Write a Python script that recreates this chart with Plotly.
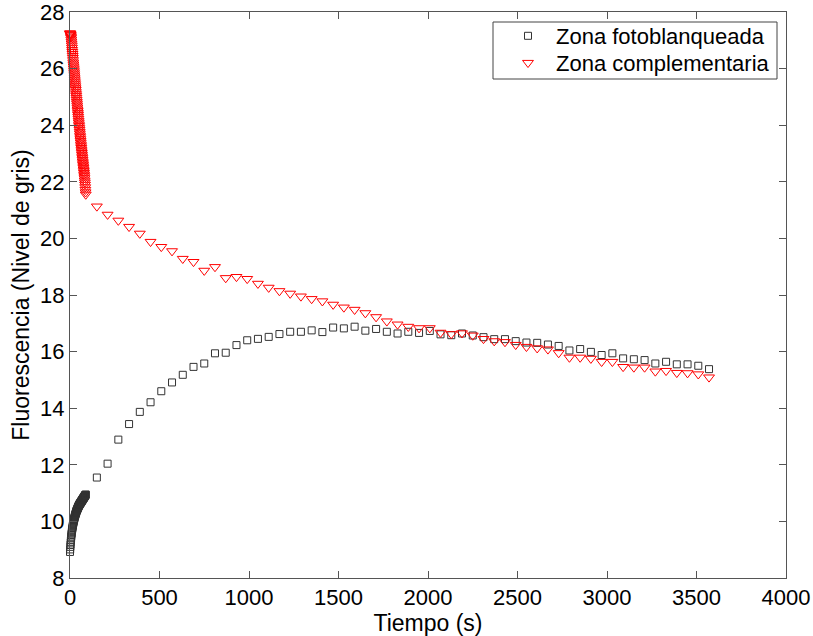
import plotly.graph_objects as go

# Early, densely sampled part of the recording (s)
t_dense = [0, 1, 2, 3, 4, 5, 6, 7, 8, 9, 10, 11, 12, 13, 14, 15, 16, 17, 18, 19,
           20, 21, 22, 23, 24, 25, 26, 27, 28, 29, 30, 31, 32, 33, 34, 35, 36, 37, 38, 39,
           40, 41, 42, 43, 44, 45, 46, 47, 48, 49, 50, 51, 52, 53, 54, 55, 56, 57, 58, 59,
           60, 61, 62, 63, 64, 65, 66, 67, 68, 69, 70, 71, 72, 73, 74, 75, 76, 77, 78, 79,
           80, 81, 82, 83, 84, 85, 86, 87, 88]

# Later, sparsely sampled part (s)
t_sparse = [150, 210, 270, 330, 390, 450, 510, 570, 630, 690, 750, 810, 870, 930, 990,
            1050, 1110, 1170, 1230, 1290, 1350, 1410, 1470, 1530, 1590, 1650, 1710, 1770,
            1830, 1890, 1950, 2010, 2070, 2130, 2190, 2250, 2310, 2370, 2430, 2490, 2550,
            2610, 2670, 2730, 2790, 2850, 2910, 2970, 3030, 3090, 3150, 3210, 3270, 3330,
            3390, 3450, 3510, 3570]

# Photobleached zone (grey level)
bleached_dense = [8.92, 9.01, 9.10, 9.18, 9.26, 9.33, 9.40, 9.46, 9.52, 9.57,
                  9.62, 9.67, 9.71, 9.75, 9.79, 9.83, 9.86, 9.90, 9.93, 9.96,
                  9.99, 10.02, 10.05, 10.08, 10.10, 10.13, 10.15, 10.18, 10.20, 10.22,
                  10.24, 10.26, 10.28, 10.30, 10.32, 10.34, 10.36, 10.38, 10.39, 10.41,
                  10.42, 10.44, 10.45, 10.47, 10.48, 10.50, 10.51, 10.53, 10.54, 10.55,
                  10.56, 10.58, 10.59, 10.60, 10.61, 10.62, 10.63, 10.64, 10.65, 10.66,
                  10.67, 10.68, 10.69, 10.70, 10.71, 10.72, 10.73, 10.74, 10.75, 10.76,
                  10.77, 10.78, 10.79, 10.80, 10.81, 10.82, 10.83, 10.84, 10.85, 10.86,
                  10.87, 10.88, 10.89, 10.90, 10.91, 10.92, 10.93, 10.94, 10.95]
bleached_sparse = [11.55, 12.04, 12.89, 13.44, 13.87, 14.21, 14.60, 14.91, 15.18, 15.46,
                   15.58, 15.94, 15.96, 16.23, 16.40, 16.45, 16.52, 16.62, 16.70, 16.70,
                   16.75, 16.69, 16.85, 16.82, 16.88, 16.74, 16.80, 16.70, 16.64, 16.70,
                   16.66, 16.73, 16.61, 16.58, 16.64, 16.57, 16.51, 16.44, 16.44, 16.37,
                   16.32, 16.31, 16.25, 16.20, 16.04, 16.09, 15.99, 15.88, 15.94, 15.76,
                   15.73, 15.70, 15.58, 15.64, 15.55, 15.55, 15.50, 15.38]

# Complementary zone (grey level)
complement_dense = [27.25, 27.24, 27.22, 27.20, 27.18, 27.14, 27.10, 27.03, 26.96, 26.89,
                    26.82, 26.74, 26.66, 26.59, 26.52, 26.45, 26.38, 26.30, 26.22, 26.15,
                    26.08, 26.01, 25.94, 25.87, 25.80, 25.73, 25.66, 25.59, 25.52, 25.45,
                    25.38, 25.31, 25.25, 25.17, 25.10, 25.04, 24.97, 24.90, 24.83, 24.77,
                    24.70, 24.63, 24.56, 24.50, 24.43, 24.37, 24.30, 24.23, 24.16, 24.10,
                    24.03, 23.97, 23.90, 23.84, 23.77, 23.71, 23.64, 23.58, 23.51, 23.45,
                    23.39, 23.32, 23.26, 23.20, 23.14, 23.08, 23.02, 22.96, 22.90, 22.84,
                    22.78, 22.72, 22.66, 22.61, 22.55, 22.50, 22.44, 22.38, 22.32, 22.26,
                    22.20, 22.13, 22.05, 21.98, 21.90, 21.81, 21.72, 21.63, 21.55]
complement_sparse = [21.13, 20.84, 20.63, 20.41, 20.17, 19.88, 19.70, 19.55, 19.28, 19.17,
                     18.86, 18.99, 18.60, 18.64, 18.57, 18.40, 18.26, 18.14, 18.05, 17.95,
                     17.86, 17.78, 17.66, 17.56, 17.48, 17.36, 17.22, 17.07, 16.96, 16.88,
                     16.83, 16.83, 16.67, 16.62, 16.65, 16.57, 16.45, 16.37, 16.34, 16.24,
                     16.17, 16.12, 16.08, 15.95, 15.79, 15.79, 15.75, 15.64, 15.64, 15.46,
                     15.44, 15.44, 15.30, 15.32, 15.25, 15.24, 15.20, 15.09]

x_ticks = [0, 500, 1000, 1500, 2000, 2500, 3000, 3500, 4000]
y_ticks = [8, 10, 12, 14, 16, 18, 20, 22, 24, 26, 28]

FONT = "Liberation Sans, Arial, Helvetica, sans-serif"
AXIS_COLOR = "#555555"

# Plot area in pixels (used to place the legend frame)
L, R, T, B = 70, 786, 12, 578
W, H = 813, 636


def px_x(px):
    return (px - L) / (R - L)


def px_y(py):
    return (B - py) / (B - T)


fig = go.Figure()

fig.add_trace(go.Scatter(
    x=t_dense + t_sparse,
    y=bleached_dense + bleached_sparse,
    mode="markers",
    name="Zona fotoblanqueada",
    legend="legend",
    cliponaxis=False,
    marker=dict(symbol="square-open", size=7, color="#333333",
                line=dict(width=1, color="#333333")),
))

fig.add_trace(go.Scatter(
    x=t_dense + t_sparse,
    y=complement_dense + complement_sparse,
    mode="markers",
    name="Zona complementaria",
    legend="legend2",
    cliponaxis=False,
    marker=dict(symbol="triangle-down-open", size=9.5, color="#ff0000",
                line=dict(width=1, color="#ff0000")),
))

axis_common = dict(
    showline=True, linecolor=AXIS_COLOR, linewidth=1, mirror="ticks",
    ticks="inside", ticklen=7, tickwidth=1, tickcolor=AXIS_COLOR,
    showgrid=False, zeroline=False, automargin=False,
    ticklabeloverflow="allow",
    tickfont=dict(family=FONT, size=22, color="#000000"),
)

legend_common = dict(
    xanchor="left", yanchor="middle",
    bgcolor="rgba(0,0,0,0)", borderwidth=0,
    font=dict(family=FONT, size=22, color="#000000"),
    itemwidth=46,
)

fig.update_layout(
    width=W, height=H,
    margin=dict(l=L, r=W - R, t=T, b=H - B, pad=0, autoexpand=False),
    paper_bgcolor="white", plot_bgcolor="white",
    font=dict(family=FONT, color="#000000"),
    xaxis=dict(range=[0, 4000], tickvals=x_ticks, ticktext=[str(v) for v in x_ticks],
               title=dict(text="Tiempo (s)", font=dict(family=FONT, size=23), standoff=3),
               **axis_common),
    yaxis=dict(range=[8, 28], tickvals=y_ticks, ticktext=[str(v) for v in y_ticks],
               title=dict(text="Fluorescencia (Nivel de gris)", font=dict(family=FONT, size=23),
                          standoff=4),
               **axis_common),
    legend=dict(x=px_x(500), y=px_y(36), **legend_common),
    legend2=dict(x=px_x(500), y=px_y(63), **legend_common),
    shapes=[dict(
        type="rect", xref="paper", yref="paper",
        x0=px_x(493), x1=px_x(777), y0=px_y(79), y1=px_y(22),
        line=dict(color="#444444", width=1), fillcolor="white", layer="above",
    )],
    showlegend=True,
)

fig.write_html("out.html")
